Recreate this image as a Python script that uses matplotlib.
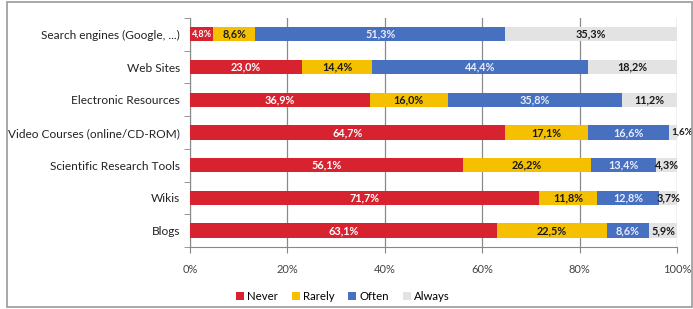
import numpy as np
import matplotlib.pyplot as plt
from matplotlib.patches import Rectangle

plt.rcParams['font.family'] = ['Lato', 'DejaVu Sans']

categories = ['Search engines (Google, ...)', 'Web Sites', 'Electronic Resources',
              'Video Courses (online/CD-ROM)', 'Scientific Research Tools', 'Wikis', 'Blogs']
never = [4.8, 23.0, 36.9, 64.7, 56.1, 71.7, 63.1]
rarely = [8.6, 14.4, 16.0, 17.1, 26.2, 11.8, 22.5]
often = [51.3, 44.4, 35.8, 16.6, 13.4, 12.8, 8.6]
always = [35.3, 18.2, 11.2, 1.6, 4.3, 3.7, 5.9]
series = ['Never', 'Rarely', 'Often', 'Always']
colors = ['#d7232f', '#f5c000', '#4870c0', '#e3e3e3']
label_colors = ['white', '#1a1a1a', '#e8eefa', '#1a1a1a']
xticks = [0, 20, 40, 60, 80, 100]

fig = plt.figure(figsize=(6.93, 3.09), dpi=100)
ax = fig.add_axes([0.274, 0.2006, 0.703, 0.7414])

y = np.arange(len(categories))
left = np.zeros(len(categories))
data = [never, rarely, often, always]
for vals, name, col, lc in zip(data, series, colors, label_colors):
    vals = np.array(vals)
    ax.barh(y, vals, left=left, height=0.44, color=col, label=name, zorder=3)
    for yi, l, v in zip(y, left, vals):
        txt = ('%.1f%%' % v).replace('.', ',')
        if v < 2:
            # too thin for its label, put it just past the end of the bar
            ax.text(l + v + 1.1, yi, txt, ha='center', va='center', fontsize=7,
                    fontweight='bold', color=lc, zorder=4)
        else:
            fs = 6.5 if v < 6 and name == 'Never' else 7.8
            ax.text(l + v / 2, yi, txt, ha='center', va='center', fontsize=fs,
                    fontweight='bold', color=lc, zorder=4)
    left = left + vals

ax.set_xlim(0, 100)
ax.set_ylim(len(categories) - 0.5, -0.5)
ax.set_xticks(xticks)
ax.set_xticklabels(['%d%%' % t for t in xticks], fontsize=8, color='#444444')
ax.set_yticks(y)
ax.set_yticklabels(categories, fontsize=8.6, color='#222222')
ax.set_yticks(np.arange(-0.5, len(categories), 1), minor=True)
ax.tick_params(axis='y', which='major', length=0, pad=7)
ax.tick_params(axis='y', which='minor', length=4, color='#888888', direction='out')
ax.tick_params(axis='x', length=4, color='#888888', pad=8)
ax.grid(axis='x', color='#8a8a8a', linewidth=0.9, zorder=0)
for s in ['top', 'right']:
    ax.spines[s].set_visible(False)
for s in ['left', 'bottom']:
    ax.spines[s].set_color('#888888')

ax.legend(loc='center', bbox_to_anchor=(0.495, 0.04), ncol=4, frameon=False,
          fontsize=8.2, handlelength=0.7, handleheight=0.7, handletextpad=0.3,
          columnspacing=1.2, bbox_transform=fig.transFigure)

fig.patches.append(Rectangle((7 / 693, 2 / 309), 685 / 693, 305 / 309,
                             transform=fig.transFigure, fill=False,
                             edgecolor='#999999', linewidth=1.2))
fig.savefig('out.png', dpi=100)
